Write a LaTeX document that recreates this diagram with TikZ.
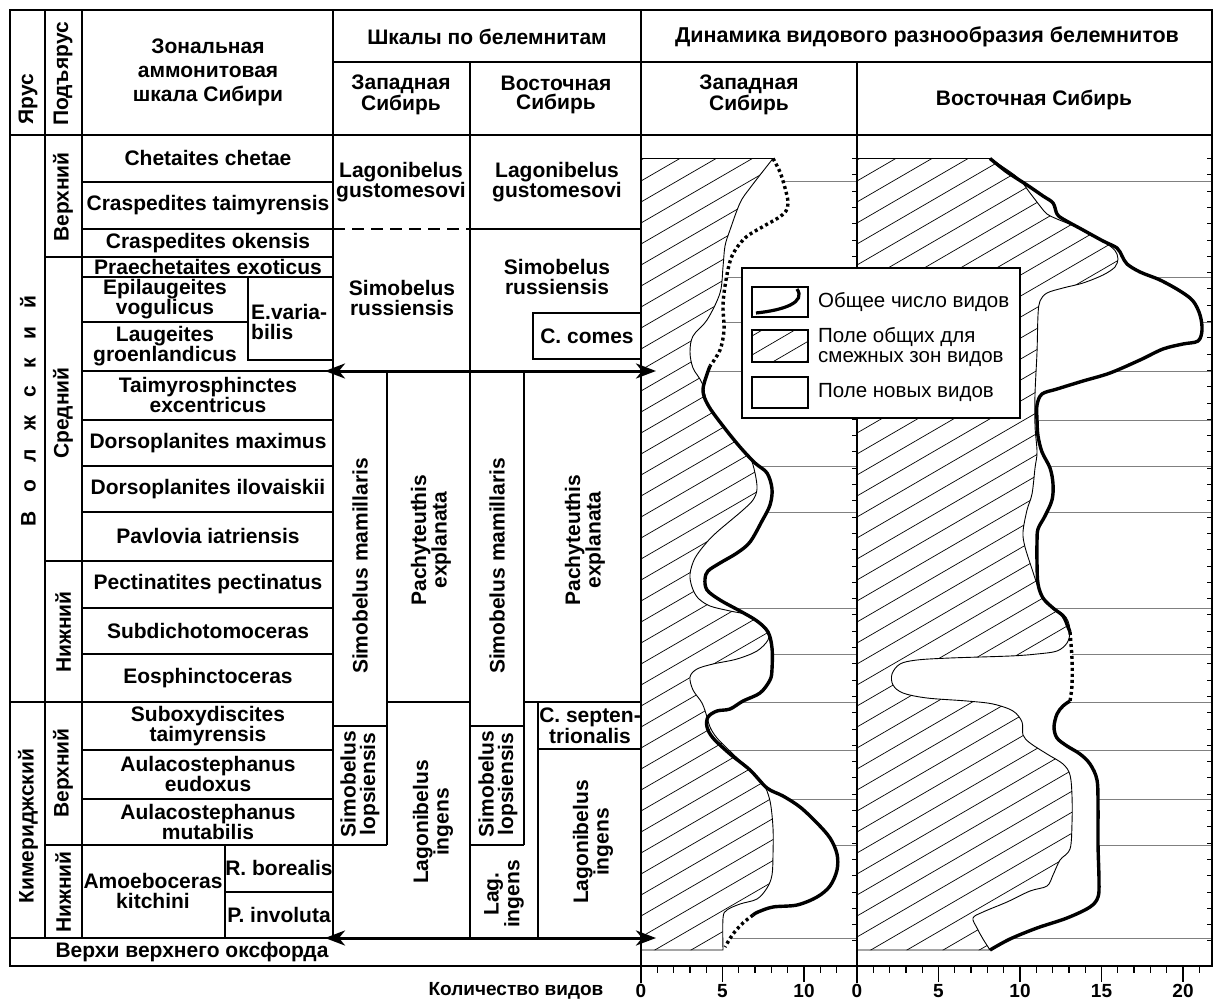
\documentclass[tikz,border=0pt]{standalone}
\usepackage{fontspec}
\setmainfont{Liberation Sans}
\usetikzlibrary{arrows.meta}
\begin{document}
\begin{tikzpicture}[x=1pt,y=-1pt,
  tl/.style={line width=1.8pt},
  zone/.style={font=\bfseries\fontsize{21}{19.5}\selectfont, align=center, inner sep=0pt},
  vzone/.style={zone, rotate=90},
  gridline/.style={gray, line width=0.8pt},
  hatchline/.style={line width=0.7pt},
  thincurve/.style={line width=0.9pt},
  thickcurve/.style={line width=3.4pt, line join=round},
  dotcurve/.style={line width=3.4pt, dash pattern=on 3pt off 3pt},
  leg/.style={font=\fontsize{20.5}{20}\selectfont, inner sep=0pt, align=left, anchor=west},
  bigarrow/.style={line width=3pt, {Stealth[length=20pt,width=15pt,inset=6pt]}-{Stealth[length=20pt,width=15pt,inset=6pt]}},
  axnum/.style={font=\bfseries\fontsize{19}{19}\selectfont, inner sep=0pt}
]
\fill[white] (0,0) rectangle (1214,1003);
\useasboundingbox (0,0) rectangle (1214,1003);

% ---------- chart grid lines ----------
\foreach \yy in {181,277,322,371,466,512,608,654,702,750,799,845,938}
  \draw[gridline] (641,\yy) -- (857,\yy);
\foreach \yy in {181,277,322,371,420,466,512,608,654,702,750,799,845,938}
  \draw[gridline] (857,\yy) -- (1212,\yy);

% ---------- West chart ----------
\fill[white] (641,158.5) -- plot[smooth,tension=0.55] coordinates {(773,158.5) (780,172) (785,188) (788,202) (786,211) (778,218) (764,226) (745,238) (732,256) (726,280) (723,305) (724,330) (720,350) (710,366) (703,389) (708,405) (723,426) (740,447) (755,463) (767,473) (772,489) (770,505) (762,521) (750,542) (737,553) (720,563) (708,571) (705,579) (707,590) (720,600) (740,611) (757,621) (768,632) (772,648) (772,669) (770,680) (760,693) (743,701) (730,709) (717,711) (708,717) (707,727) (713,738) (730,754) (750,770) (767,788) (783,796) (800,807) (817,823) (830,838) (837,854) (837,870) (830,886) (817,897) (797,905) (773,907) (758,912) (753,915) (743,923) (733,934) (725,947)} -- (641,950) -- cycle;
\begin{scope}
\clip (641,158.5) -- plot[smooth,tension=0.55] coordinates {(773,158.5) (750,188) (740,203) (730,230) (725,246) (723,267) (720,293) (707,320) (693,336) (690,352) (693,368) (702,383) (708,405) (723,426) (740,447) (750,457) (755,473) (757,489) (753,500) (743,510) (730,521) (717,532) (707,542) (695,558) (690,574) (692,587) (698,598) (710,606) (730,611) (750,616) (767,632) (768,640) (757,651) (737,659) (713,664) (697,669) (690,677) (693,690) (702,703) (707,717) (710,727) (717,738) (733,754) (750,770) (763,783) (770,801) (773,828) (773,854) (772,875) (767,888) (757,899) (740,904) (727,910) (723,918) (723,950)} -- (641,950) -- cycle;
\foreach \k in {0,...,52} \draw[hatchline] (641,{160+21*\k}) -- ++(240,-139);
\end{scope}
\draw[thincurve] (641,158.5) -- plot[smooth,tension=0.55] coordinates {(773,158.5) (750,188) (740,203) (730,230) (725,246) (723,267) (720,293) (707,320) (693,336) (690,352) (693,368) (702,383) (708,405) (723,426) (740,447) (750,457) (755,473) (757,489) (753,500) (743,510) (730,521) (717,532) (707,542) (695,558) (690,574) (692,587) (698,598) (710,606) (730,611) (750,616) (767,632) (768,640) (757,651) (737,659) (713,664) (697,669) (690,677) (693,690) (702,703) (707,717) (710,727) (717,738) (733,754) (750,770) (763,783) (770,801) (773,828) (773,854) (772,875) (767,888) (757,899) (740,904) (727,910) (723,918) (723,950)} -- (641,950);
\draw[dotcurve] plot[smooth,tension=0.55] coordinates {(773,158.5) (780,172) (785,188) (788,202) (786,211) (778,218) (764,226) (745,238) (732,256) (726,280) (723,305) (724,330) (720,350) (710,366)};
\draw[thickcurve] plot[smooth,tension=0.55] coordinates {(710,366) (703,389) (708,405) (723,426) (740,447) (755,463) (767,473) (772,489) (770,505) (762,521) (750,542) (737,553) (720,563) (708,571) (705,579) (707,590) (720,600) (740,611) (757,621) (768,632) (772,648) (772,669) (770,680) (760,693) (743,701) (730,709) (717,711) (708,717) (707,727) (713,738) (730,754) (750,770) (767,788) (783,796) (800,807) (817,823) (830,838) (837,854) (837,870) (830,886) (817,897) (797,905) (773,907) (758,912) (753,915)};
\draw[dotcurve] plot[smooth,tension=0.55] coordinates {(753,915) (743,923) (733,934) (725,947)};

% ---------- East chart ----------
\fill[white] (857,158.5) -- plot[smooth,tension=0.55] coordinates {(990,158.5) (1007,172) (1027,185) (1043,196) (1053,203) (1057,214) (1063,219) (1083,230) (1103,241) (1117,248) (1122,256) (1127,264) (1140,272) (1160,280) (1180,291) (1193,301) (1200,315) (1202,330) (1198,341) (1183,344) (1163,349) (1140,360) (1110,373) (1083,381) (1057,389) (1042,394) (1037,405) (1037,420) (1038,436) (1042,452) (1050,468) (1053,484) (1052,500) (1045,516) (1038,529) (1037,542) (1037,563) (1038,584) (1043,598) (1053,608) (1063,616) (1068,627) (1070,632) (1072,659) (1072,685) (1070,701) (1063,706) (1057,714) (1054,727) (1057,738) (1067,746) (1080,754) (1090,764) (1097,780) (1098,807) (1098,844) (1099,881) (1098,897) (1090,907) (1067,918) (1037,928) (1010,939) (990,950)} -- (857,950) -- cycle;
\begin{scope}
\clip (857,158.5) -- plot[smooth,tension=0.55] coordinates {(990,158.5) (1017,177) (1030,193) (1040,206) (1047,214) (1057,219) (1083,230) (1110,246) (1117,254) (1118,259) (1115,267) (1103,275) (1083,283) (1063,288) (1047,293) (1040,301) (1038,315) (1037,352) (1035,394) (1035,426) (1037,452) (1035,468) (1032,494) (1027,510) (1023,532) (1025,547) (1032,569) (1037,584) (1043,598) (1053,608) (1063,614) (1068,621) (1070,632) (1067,643) (1057,651) (1037,654) (1010,656) (950,658) (917,660) (900,664) (892,674) (893,685) (903,693) (927,698) (967,701) (993,704) (1013,711) (1022,722) (1023,735) (1030,743) (1047,754) (1063,764) (1070,775) (1072,796) (1072,823) (1070,849) (1060,860) (1053,875) (1047,886) (1030,891) (1007,902) (983,912) (973,918) (977,928) (983,939) (990,950)} -- (857,950) -- cycle;
\foreach \k in {0,...,60} \draw[hatchline] (857,{160+21*\k}) -- ++(360,-209);
\end{scope}
\draw[thincurve] (857,158.5) -- plot[smooth,tension=0.55] coordinates {(990,158.5) (1017,177) (1030,193) (1040,206) (1047,214) (1057,219) (1083,230) (1110,246) (1117,254) (1118,259) (1115,267) (1103,275) (1083,283) (1063,288) (1047,293) (1040,301) (1038,315) (1037,352) (1035,394) (1035,426) (1037,452) (1035,468) (1032,494) (1027,510) (1023,532) (1025,547) (1032,569) (1037,584) (1043,598) (1053,608) (1063,614) (1068,621) (1070,632) (1067,643) (1057,651) (1037,654) (1010,656) (950,658) (917,660) (900,664) (892,674) (893,685) (903,693) (927,698) (967,701) (993,704) (1013,711) (1022,722) (1023,735) (1030,743) (1047,754) (1063,764) (1070,775) (1072,796) (1072,823) (1070,849) (1060,860) (1053,875) (1047,886) (1030,891) (1007,902) (983,912) (973,918) (977,928) (983,939) (990,950)} -- (857,950);
\draw[thickcurve] plot[smooth,tension=0.55] coordinates {(990,158.5) (1007,172) (1027,185) (1043,196) (1053,203) (1057,214) (1063,219) (1083,230) (1103,241) (1117,248) (1122,256) (1127,264) (1140,272) (1160,280) (1180,291) (1193,301) (1200,315) (1202,330) (1198,341) (1183,344) (1163,349) (1140,360) (1110,373) (1083,381) (1057,389) (1042,394) (1037,405) (1037,420) (1038,436) (1042,452) (1050,468) (1053,484) (1052,500) (1045,516) (1038,529) (1037,542) (1037,563) (1038,584) (1043,598) (1053,608) (1063,616) (1068,627) (1070,632)};
\draw[dotcurve] plot[smooth,tension=0.55] coordinates {(1070,632) (1072,659) (1072,685) (1070,701)};
\draw[thickcurve] plot[smooth,tension=0.55] coordinates {(1070,701) (1063,706) (1057,714) (1054,727) (1057,738) (1067,746) (1080,754) (1090,764) (1097,780) (1098,807) (1098,844) (1099,881) (1098,897) (1090,907) (1067,918) (1037,928) (1010,939) (990,950)};

% small ruler ticks on the right edges of the charts
\foreach \k in {0,...,48} {
  \draw[line width=0.9pt] (857,{158.5+16.3*\k}) -- ++(-5,0);
  \draw[line width=0.9pt] (1212,{158.5+16.3*\k}) -- ++(-5,0);
}

% ---------- table frame ----------
\draw[tl] (10,10) -- (1212,10) -- (1212,966) -- (10,966) -- cycle;
\draw[tl] (333,62) -- (1212,62);
\draw[tl] (10,135) -- (1212,135);
\draw[tl] (45,10) -- (45,938);
\draw[tl] (82,10) -- (82,938);
\draw[tl] (333,10) -- (333,938);
\draw[tl] (470,62) -- (470,938);
\draw[tl] (641,10) -- (641,983);
\draw[tl] (857,62) -- (857,983);
% stage / substage boundaries
\draw[tl] (45,257) -- (333,257);
\draw[tl] (45,561) -- (333,561);
\draw[tl] (10,702) -- (333,702);
\draw[tl] (45,845) -- (333,845);
\draw[tl] (10,938) -- (333,938);
% ammonite zones
\foreach \yy in {182,229,277,371,420,466,512,608,654,750,799}
  \draw[tl] (82,\yy) -- (333,\yy);
\draw[tl] (82,322) -- (248,322);
\draw[tl] (248,277) -- (248,360) -- (333,360);
\draw[tl] (225,845) -- (225,938);
\draw[tl] (225,892) -- (333,892);
% belemnite scales, West
\draw[tl, dash pattern=on 12pt off 7pt] (333,229) -- (470,229);
\draw[tl] (387,371) -- (387,845);
\draw[tl] (387,702) -- (470,702);
\draw[tl] (333,726) -- (387,726);
\draw[tl] (333,845) -- (387,845);
% belemnite scales, East
\draw[tl] (470,229) -- (641,229);
\draw[tl] (641,313) -- (533,313) -- (533,359) -- (641,359);
\draw[tl] (524,371) -- (524,845);
\draw[tl] (524,702) -- (641,702);
\draw[tl] (538,702) -- (538,938);
\draw[tl] (470,726) -- (524,726);
\draw[tl] (470,845) -- (524,845);
\draw[tl] (538,749) -- (641,749);

% ---------- headers ----------
\node[vzone] (hYarus) at (28,99) {Ярус};
\node[vzone] (hPodyarus) at (63,74) {Подъярус};
\node[zone, font=\bfseries\fontsize{21}{24}\selectfont] (hZon) at (208,72) {Зональная\\аммонитовая\\шкала Сибири};
\node[zone] (hShk) at (487,37) {Шкалы по белемнитам};
\node[zone] (hBW) at (401,95) {Западная\\Сибирь};
\node[zone] (hBE) at (556,95) {Восточная\\Сибирь};
\node[zone, font=\bfseries\fontsize{21.5}{19.5}\selectfont] (hDin) at (927,37) {Динамика видового разнообразия белемнитов};
\node[zone] (hDW) at (749,95) {Западная\\Сибирь};
\node[zone] (hDE) at (1034,100) {Восточная Сибирь};

% ---------- stages / substages ----------
\node[vzone] (sVol) at (28,411) {\spaceskip=18pt В о л ж с к и й};
\node[vzone] (sKim) at (28,826) {Кимериджский};
\node[vzone] (ss1) at (63,197) {Верхний};
\node[vzone] (ss2) at (63,413) {Средний};
\node[vzone] (ss3) at (63,632) {Нижний};
\node[vzone] (ss4) at (63,773) {Верхний};
\node[vzone] (ss5) at (63,892) {Нижний};

% ---------- ammonite zones ----------
\node[zone] (z1) at (208,158) {Chetaites chetae};
\node[zone] (z2) at (208,205) {Craspedites taimyrensis};
\node[zone] (z3) at (208,243) {Craspedites okensis};
\node[zone] (z4) at (208,267) {Praechetaites exoticus};
\node[zone] (z5) at (165,299) {Epilaugeites\\vogulicus};
\node[zone] (z6) at (165,346) {Laugeites\\groenlandicus};
\node[zone, align=left, anchor=west] (z7) at (251,322) {E.varia-\\bilis};
\node[zone] (z8) at (208,395) {Taimyrosphinctes\\excentricus};
\node[zone] (z9) at (208,443) {Dorsoplanites maximus};
\node[zone] (z10) at (208,489) {Dorsoplanites ilovaiskii};
\node[zone] (z11) at (208,536) {Pavlovia iatriensis};
\node[zone] (z12) at (208,584) {Pectinatites pectinatus};
\node[zone] (z13) at (208,631) {Subdichotomoceras};
\node[zone] (z14) at (208,678) {Eosphinctoceras};
\node[zone] (z15) at (208,726) {Suboxydiscites\\taimyrensis};
\node[zone] (z16) at (208,774) {Aulacostephanus\\eudoxus};
\node[zone] (z17) at (208,822) {Aulacostephanus\\mutabilis};
\node[zone] (z18) at (153,891) {Amoeboceras\\kitchini};
\node[zone] (z19) at (279,868) {R. borealis};
\node[zone] (z20) at (279,915) {P. involuta};
\node[zone] (z21) at (192,952) {Верхи верхнего оксфорда};

% ---------- belemnite zones ----------
\node[zone] (bW1) at (401,182) {Lagonibelus\\gustomesovi};
\node[zone] (bE1) at (557,182) {Lagonibelus\\gustomesovi};
\node[zone] (bW2) at (402,298) {Simobelus\\russiensis};
\node[zone] (bE2) at (557,277) {Simobelus\\russiensis};
\node[zone] (bE3) at (587,336) {C. comes};
\node[vzone] (bW3) at (360,566) {Simobelus mamillaris};
\node[vzone] (bE4) at (497,566) {Simobelus mamillaris};
\node[vzone] (bW4) at (431,540) {Pachyteuthis\\explanata};
\node[vzone] (bE5) at (585,540) {Pachyteuthis\\explanata};
\node[vzone] (bW5) at (360,784) {Simobelus\\lopsiensis};
\node[vzone] (bE6) at (498,784) {Simobelus\\lopsiensis};
\node[vzone] (bW6) at (433,822) {Lagonibelus\\ingens};
\node[vzone] (bE7) at (504,894) {Lag.\\ingens};
\node[zone] (bE8) at (590,726) {C. septen-\\trionalis};
\node[vzone] (bE9) at (593,842) {Lagonibelus\\ingens};

% ---------- arrows ----------
\coordinate (a1l) at (325,371);
\coordinate (a1r) at (656,371);
\coordinate (a2l) at (325,938);
\coordinate (a2r) at (656,938);
\draw[bigarrow] (a1l) -- (a1r);
\draw[bigarrow] (a2l) -- (a2r);

% ---------- legend ----------
\draw[line width=1.3pt, fill=white] (742,268) rectangle (1020,418);
\draw[line width=1.3pt] (752,287) rectangle (808,317);
\draw[line width=3.2pt] (756,313) .. controls (785,310) and (806,302) .. (797,289);
\begin{scope}
\clip (752,330) rectangle (808,362);
\foreach \k in {0,...,5} \draw[hatchline] (752,{336+19*\k}) -- ++(60,-35);
\end{scope}
\draw[line width=1.3pt] (752,330) rectangle (808,362);
\draw[line width=1.3pt] (752,377) rectangle (808,408);
\node[leg] (l1) at (818,302) {Общее число видов};
\node[leg] (l2) at (818,347) {Поле общих для\\смежных зон видов};
\node[leg] (l3) at (818,392) {Поле новых видов};

% ---------- axis ----------
\foreach \i in {1,...,12} \draw[line width=1.3pt] ({641+16.3*\i},966) -- ++(0,7);
\foreach \i in {5,10} \draw[line width=1.5pt] ({641+16.3*\i},966) -- ++(0,16);
\foreach \i in {1,...,21} \draw[line width=1.3pt] ({857+16.3*\i},966) -- ++(0,7);
\foreach \i in {5,10,15,20} \draw[line width=1.5pt] ({857+16.3*\i},966) -- ++(0,16);
\node[axnum] (ax0) at (516,991) {Количество видов};
\node[axnum] (n1) at (641,991) {0};
\node[axnum] (n2) at (722.5,991) {5};
\node[axnum] (n3) at (804,991) {10};
\node[axnum] (n4) at (857,991) {0};
\node[axnum] (n5) at (938.5,991) {5};
\node[axnum] (n6) at (1020,991) {10};
\node[axnum] (n7) at (1101.5,991) {15};
\node[axnum] (n8) at (1183,991) {20};
\end{tikzpicture}
\end{document}
